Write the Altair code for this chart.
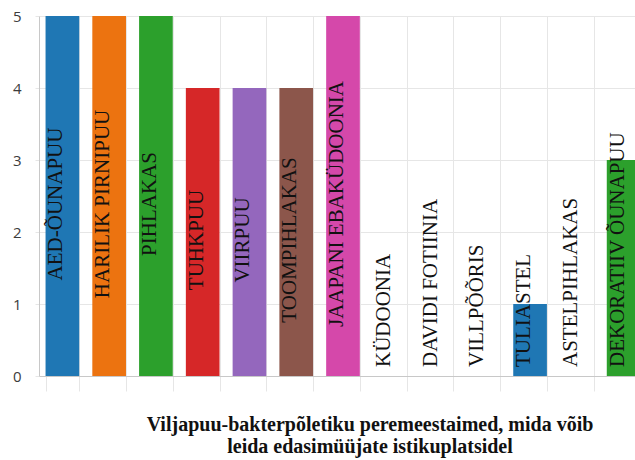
import altair as alt
import pandas as pd

# Host plants of fire blight found at retailers' plant yards
species = [
    "AED-ÕUNAPUU",
    "HARILIK PIRNIPUU",
    "PIHLAKAS",
    "TUHKPUU",
    "VIIRPUU",
    "TOOMPIHLAKAS",
    "JAAPANI EBAKÜDOONIA",
    "KÜDOONIA",
    "DAVIDI FOTIINIA",
    "VILLPÕÕRIS",
    "TULIASTEL",
    "ASTELPIHLAKAS",
    "DEKORATIIV ÕUNAPUU",
]
counts = [5, 5, 5, 4, 4, 4, 5, 0, 0, 0, 1, 0, 3]
y_ticks = [0, 1, 2, 3, 4, 5]

title_lines = [
    "Viljapuu-bakterpõletiku peremeestaimed, mida võib",
    "leida edasimüüjate istikuplatsidel",
]

df = pd.DataFrame({"liik": species, "arv": counts})

# layout constants
PLOT_W = 596
BAND_RANGE = 608
PLOT_H = 360
Y_MAX = 5
PX_PER_UNIT = PLOT_H / Y_MAX

palette = [
    "#1f77b4", "#ec7310", "#2ca02c", "#d62728", "#9467bd",
    "#8c564b", "#d548aa", "#7f7f7f", "#bcbd22", "#17becf",
]
bar_colors = [palette[i % len(palette)] for i in range(len(species))]

GRID = "#e6e6e6"
DOMAIN = "#c8c8c8"

x_enc = alt.X(
    "liik:N",
    sort=species,
    scale=alt.Scale(range=[0, BAND_RANGE], paddingInner=0.28, paddingOuter=0.14),
    axis=alt.Axis(
        title=None,
        labels=False,
        grid=True,
        gridColor=GRID,
        tickBand="extent",
        tickSize=15,
        tickColor=GRID,
        domainColor=DOMAIN,
    ),
)

y_enc = alt.Y(
    "arv:Q",
    scale=alt.Scale(domain=[0, Y_MAX]),
    axis=alt.Axis(
        title=None,
        values=y_ticks,
        format="d",
        labelFont="Open Sans",
        labelFontSize=15,
        labelColor="#3c3c3c",
        labelPadding=14,
        tickSize=4,
        tickColor=GRID,
        gridColor=GRID,
        domainColor=DOMAIN,
    ),
)

bars = alt.Chart(df).mark_bar().encode(
    x=x_enc,
    y=y_enc,
    color=alt.Color(
        "liik:N",
        sort=species,
        scale=alt.Scale(domain=species, range=bar_colors),
        legend=None,
    ),
)

# labels sit near the middle of a bar when they fit, otherwise start just above the baseline
label_base = alt.Chart(df).transform_calculate(
    fits=f"datum.arv * {PX_PER_UNIT} >= length(datum.liik) * 12.8 + 18",
    mid="datum.arv / 2",
    nul="0",
)

text_style = dict(
    angle=270,
    baseline="alphabetic",
    font="Liberation Serif",
    fontSize=21,
    color="#111111",
)

centred = label_base.transform_filter("datum.fits").mark_text(
    align="center", dx=-8, **text_style
).encode(
    x=alt.X("liik:N", sort=species),
    y=alt.Y("mid:Q", title=None),
    text="liik:N",
)

bottom = label_base.transform_filter("!datum.fits").mark_text(
    align="left", dx=9, **text_style
).encode(
    x=alt.X("liik:N", sort=species),
    y=alt.Y("nul:Q", title=None),
    text="liik:N",
)

chart = (
    alt.layer(bars, centred, bottom)
    .properties(
        width=PLOT_W,
        height=PLOT_H,
        autosize=alt.AutoSizeParams(type="none"),
        padding={"left": 39, "top": 16, "right": 0, "bottom": 84},
        background="white",
        title=alt.TitleParams(
            text=title_lines,
            orient="bottom",
            anchor="middle",
            font="Liberation Serif",
            fontSize=20,
            fontWeight="bold",
            color="#111111",
            dx=33,
            offset=23,
            lineHeight=22,
        ),
    )
    .configure_view(strokeWidth=0)
)

chart.save("out.html", embed_options={"renderer": "svg", "actions": False})
